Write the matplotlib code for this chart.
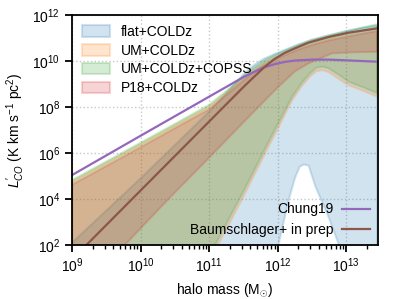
import numpy as np
import matplotlib
matplotlib.use("Agg")
import matplotlib.pyplot as plt
from matplotlib.patches import Patch

plt.rcParams['font.family'] = ['Liberation Sans', 'DejaVu Sans']
plt.rcParams['mathtext.fontset'] = 'custom'
plt.rcParams['mathtext.rm'] = 'Liberation Sans'
plt.rcParams['mathtext.it'] = 'Liberation Sans:italic'
plt.rcParams['mathtext.bf'] = 'Liberation Sans:bold'

# ---- data (log10 halo mass, log10 L'CO) ----
band_labels = ["flat+COLDz", "UM+COLDz", "UM+COLDz+COPSS", "P18+COLDz"]
band_colors = ["tab:blue", "tab:orange", "tab:green", "tab:red"]

up_m = [9.0, 10.0, 10.5, 11.0, 11.25, 11.5, 11.65, 11.8, 11.95, 12.1, 12.3, 12.5, 12.75, 13.0, 13.25, 13.45]

# flat+COLDz
flat_up_l = [2.1, 4.9, 6.35, 7.8, 8.6, 9.42, 9.82, 10.1, 10.3, 10.48, 10.72, 10.93, 11.12, 11.3, 11.45, 11.55]
flat_lo_m = [9.0, 11.95, 12.06, 12.16, 12.25, 12.32, 12.38, 12.45, 12.55, 12.74, 12.88, 13.05, 13.45]
flat_lo_l = [-10.0, 1.2, 2.65, 3.96, 4.9, 5.4, 5.5, 5.45, 4.54, 3.23, 2.1, 0.5, -5.0]

# UM+COLDz
um_up_l = [4.75, 6.38, 7.2, 8.02, 8.62, 9.26, 9.62, 9.92, 10.15, 10.35, 10.6, 10.8, 11.0, 11.17, 11.33, 11.45]
um_lo_m = [9.0, 11.13, 11.5, 11.87, 12.0, 12.21, 12.35, 12.47, 12.56, 12.65, 12.74, 12.9, 13.03, 13.25, 13.45]
um_lo_l = [-10.0, 2.0, 4.1, 6.3, 7.05, 8.3, 8.9, 9.32, 9.55, 9.6, 9.52, 9.2, 8.95, 8.7, 8.45]

# UM+COLDz+COPSS
umc_up_l = [4.82, 6.45, 7.27, 8.1, 8.7, 9.35, 9.72, 10.02, 10.25, 10.45, 10.7, 10.92, 11.12, 11.3, 11.47, 11.6]
umc_lo_m = [9.0, 11.1, 11.5, 11.87, 12.0, 12.21, 12.35, 12.47, 12.56, 12.65, 12.74, 12.9, 13.03, 13.25, 13.45]
umc_lo_l = [-10.0, 2.07, 4.33, 6.5, 7.25, 8.45, 9.05, 9.46, 9.7, 9.75, 9.68, 9.38, 9.1, 8.85, 8.6]

# P18+COLDz
p18_up_l = [4.62, 6.25, 7.08, 7.9, 8.52, 9.15, 9.52, 9.82, 10.05, 10.25, 10.5, 10.7, 10.9, 11.05, 11.2, 11.3]
p18_lo_m = [9.0, 9.77, 10.42, 11.0, 11.58, 12.01, 12.25, 12.45, 12.79, 13.1, 13.45]
p18_lo_l = [-0.3, 2.0, 4.04, 5.8, 7.58, 8.88, 9.55, 9.9, 10.33, 10.38, 10.4]

# lines
chung_m = [9.0, 10.0, 11.0, 11.5, 11.65, 11.8, 11.95, 12.1, 12.25, 12.5, 12.75, 13.0, 13.45]
chung_l = [5.04, 6.75, 8.45, 9.3, 9.52, 9.72, 9.86, 9.96, 10.02, 10.06, 10.06, 10.03, 9.97]
baum_m = [9.0, 9.21, 11.5, 11.65, 11.8, 11.95, 12.1, 12.25, 12.45, 12.75, 13.03, 13.45]
baum_l = [1.37, 2.0, 8.87, 9.3, 9.72, 10.08, 10.35, 10.55, 10.8, 11.05, 11.23, 11.42]

bands = [
    (flat_lo_m, flat_lo_l, up_m, flat_up_l),
    (um_lo_m, um_lo_l, up_m, um_up_l),
    (umc_lo_m, umc_lo_l, up_m, umc_up_l),
    (p18_lo_m, p18_lo_l, up_m, p18_up_l),
]

fig = plt.figure(figsize=(3.99, 2.99), dpi=100)
ax = fig.add_axes([0.1805, 0.1806, 0.7665, 0.7692])

for (lom, lol, upm, upl), c, lab in zip(bands, band_colors, band_labels):
    xs = np.concatenate([10.0 ** np.array(upm), 10.0 ** np.array(lom)[::-1]])
    ys = np.concatenate([10.0 ** np.array(upl), 10.0 ** np.array(lol)[::-1]])
    ax.fill(xs, ys, color=c, alpha=0.2, lw=1.5, label=lab)

l1, = ax.plot(10.0 ** np.array(chung_m), 10.0 ** np.array(chung_l), color="tab:purple", lw=1.6, label="Chung19")
l2, = ax.plot(10.0 ** np.array(baum_m), 10.0 ** np.array(baum_l), color="tab:brown", lw=1.6, label="Baumschlager+ in prep")

ax.set_xscale("log")
ax.set_yscale("log")
ax.set_xlim(1e9, 10 ** 13.46)
ax.set_ylim(1e2, 1e12)
ax.set_yticks([1e2, 1e4, 1e6, 1e8, 1e10, 1e12])
ax.yaxis.set_minor_locator(matplotlib.ticker.NullLocator())
ax.grid(True, which="major", ls=":", color="#c8c8c8", lw=1.0)
ax.set_axisbelow(True)
for s in ax.spines.values():
    s.set_linewidth(1.3)
ax.tick_params(which="major", direction="out", length=5, width=1.3, labelsize=10, color="k")
ax.tick_params(which="minor", direction="out", length=3, width=1.0)

ax.set_xlabel(r"halo mass (M$_{\odot}$)", fontsize=10)
ax.set_ylabel(r"$L^{\prime}_{CO}$ (K km s$^{-1}$ pc$^2$)", fontsize=10)

handles = [Patch(facecolor=c, edgecolor=c, alpha=0.2, lw=1.5) for c in band_colors]
leg1 = ax.legend(handles, band_labels, loc="upper left", frameon=False, fontsize=10,
                 handlelength=2.0, handleheight=0.9, labelspacing=0.35, borderaxespad=0.3)
ax.add_artist(leg1)
ax.legend([l1, l2], ["Chung19", "Baumschlager+ in prep"], loc="lower right", frameon=False,
          fontsize=10, markerfirst=False, handlelength=2.0, labelspacing=0.45,
          borderaxespad=0.2, handletextpad=0.6)

fig.savefig("out.png", dpi=100)
